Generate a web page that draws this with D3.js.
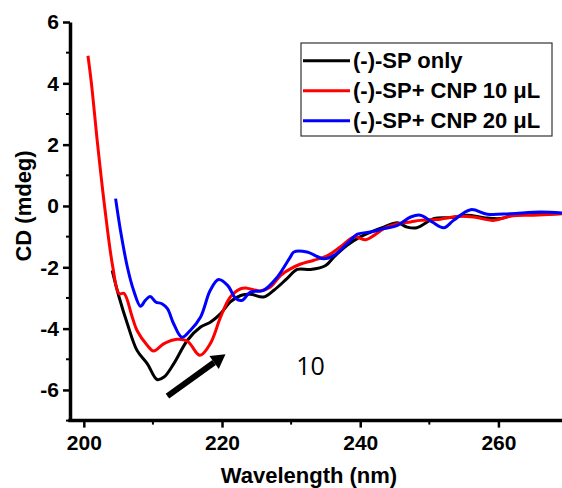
<!DOCTYPE html>
<html lang="en">
<head>
  <meta charset="UTF-8">
  <title>CD spectra</title>
  <style>
    body { margin: 0; background: #fff; }
    .line { fill: none; stroke-width: 3px; }
    text { font-family: Arial, "Liberation Sans", sans-serif; }
  </style>
</head>
<body>
  <div id="chart"></div>
  <script src="https://cdn.jsdelivr.net/npm/d3@7"></script>
  <script>
    // wavelength (nm) / CD (mdeg)
    const spOnlyX = [204.1, 205.1, 206.3, 207.7, 209.2, 210.6, 211.6, 213.0, 215.0, 216.9, 218.3, 219.8, 221.2, 222.7, 224.1, 226.0, 227.5, 229.4, 230.9, 232.8, 235.0, 236.2, 238.1, 240.0, 241.5, 243.4, 245.4, 246.8, 248.2, 250.7, 253.1, 255.5, 257.9, 260.3, 262.7, 266.1, 270];
    const spOnlyY = [-2.1, -2.97, -3.84, -4.71, -5.15, -5.66, -5.58, -5.15, -4.38, -3.95, -3.79, -3.51, -3.13, -2.92, -2.88, -2.97, -2.75, -2.37, -2.07, -2.07, -1.94, -1.66, -1.28, -1.01, -0.85, -0.69, -0.55, -0.69, -0.71, -0.41, -0.38, -0.30, -0.38, -0.41, -0.27, -0.27, -0.24];

    const cnp10X = [200.6, 201.1, 202.0, 203.0, 204.2, 205.1, 205.8, 207.0, 207.7, 209.2, 210.1, 211.6, 213.5, 215.0, 216.8, 218.3, 219.8, 221.2, 222.7, 223.6, 225.5, 227.0, 228.5, 229.9, 231.3, 233.3, 235.2, 237.1, 239.1, 240.8, 242.0, 243.4, 245.4, 247.3, 248.7, 251.6, 254.0, 256.4, 259.3, 261.8, 265.1, 270];
    const cnp10Y = [4.9, 4.0, 2.0, 0.0, -2.0, -2.86, -2.85, -3.62, -4.06, -4.55, -4.73, -4.49, -4.35, -4.41, -4.87, -4.49, -3.62, -2.97, -2.70, -2.68, -2.77, -2.64, -2.26, -2.05, -1.9, -1.77, -1.63, -1.34, -1.01, -1.1, -0.96, -0.74, -0.58, -0.52, -0.47, -0.43, -0.34, -0.36, -0.47, -0.33, -0.30, -0.24];

    const cnp20X = [204.6, 205.3, 206.3, 207.2, 208.2, 208.9, 209.6, 210.4, 211.3, 212.1, 213.0, 214.2, 215.4, 216.9, 218.3, 219.5, 220.8, 222.0, 222.9, 224.1, 226.0, 228.0, 229.9, 230.4, 232.3, 234.7, 236.2, 238.1, 239.6, 241.5, 243.4, 245.4, 247.3, 248.7, 250.4, 252.1, 253.5, 256.0, 258.4, 261.8, 266.1, 270];
    const cnp20Y = [0.24, -0.79, -1.99, -2.75, -3.27, -3.08, -2.95, -3.13, -3.19, -3.35, -3.84, -4.28, -4.06, -3.62, -2.75, -2.4, -2.59, -3.02, -3.08, -2.81, -2.75, -2.32, -1.66, -1.5, -1.5, -1.72, -1.61, -1.23, -0.92, -0.85, -0.74, -0.63, -0.36, -0.3, -0.52, -0.71, -0.47, -0.12, -0.27, -0.25, -0.2, -0.24];

    const seriesNames = ["(-)-SP only", "(-)-SP+ CNP 10 \u03bcL", "(-)-SP+ CNP 20 \u03bcL"];
    const seriesColors = ["#000000", "#ff0000", "#0000ff"];

    const xMajor = [200, 220, 240, 260];
    const xMinor = [210, 230, 250, 270];
    const yMajor = [6, 4, 2, 0, -2, -4, -6];
    const yMinor = [5, 3, 1, -1, -3, -5, -7];

    // arrow + annotation, in data units
    const arrowFrom = [212.1, -6.2];
    const arrowTo = [220.5, -4.84];
    const noteText = "10";
    const notePos = [232.8, -5.52];

    const W = 562, H = 488;
    const margin = { top: 22, left: 70 };
    const plotH = 398.6;

    const svg = d3.select("#chart").append("svg")
      .attr("width", W)
      .attr("height", H);

    const x = d3.scaleLinear().domain([198, 270]).range([margin.left, margin.left + 72 * 6.91]);
    const y = d3.scaleLinear().domain([-7, 6]).range([margin.top + plotH, margin.top]);

    const line = d3.line()
      .x(d => x(d[0]))
      .y(d => y(d[1]))
      .curve(d3.curveCatmullRom.alpha(0.5));

    const data = [
      d3.zip(spOnlyX, spOnlyY),
      d3.zip(cnp10X, cnp10Y),
      d3.zip(cnp20X, cnp20Y)
    ];

    const plot = svg.append("g");
    plot.append("clipPath").attr("id", "clip")
      .append("rect").attr("x", margin.left).attr("y", 0).attr("width", W).attr("height", margin.top + plotH);

    // draw black first, then red, then blue on top
    data.forEach((pts, i) => {
      plot.append("path")
        .datum(pts)
        .attr("class", "line")
        .attr("clip-path", "url(#clip)")
        .attr("stroke", seriesColors[i])
        .attr("d", line);
    });

    // axes
    const xAxis = svg.append("g").attr("transform", `translate(0, ${y(-7)})`);
    xAxis.call(d3.axisBottom(x).tickValues(xMajor).tickSize(7).tickPadding(7).tickFormat(d3.format("d")));
    xAxis.append("g").selectAll("line").data(xMinor).enter().append("line")
      .attr("x1", d => x(d)).attr("x2", d => x(d))
      .attr("y1", 0).attr("y2", 4)
      .attr("stroke", "#000").attr("stroke-width", 2);

    const yAxis = svg.append("g").attr("transform", `translate(${x(198)}, 0)`);
    yAxis.call(d3.axisLeft(y).tickValues(yMajor).tickSize(7).tickPadding(4).tickSizeOuter(0).tickFormat(d3.format("d")));
    yAxis.append("g").selectAll("line").data(yMinor).enter().append("line")
      .attr("y1", d => y(d)).attr("y2", d => y(d))
      .attr("x1", 0).attr("x2", -4)
      .attr("stroke", "#000").attr("stroke-width", 2);

    [xAxis, yAxis].forEach(a => {
      a.select(".domain").style("stroke-width", "3.5px").style("stroke", "#000");
      a.selectAll(".tick line").style("stroke-width", "2.5px");
      a.selectAll(".tick text")
        .style("font-family", "Arial, 'Liberation Sans', sans-serif")
        .style("font-size", "21px")
        .style("font-weight", "bold")
        .text(d => d < 0 ? "-" + Math.abs(d) : d);
    });
    xAxis.select(".domain").attr("d", `M${x(198) - 1.75},0H${W}`);

    // axis titles
    svg.append("text")
      .attr("x", 309).attr("y", 483)
      .attr("text-anchor", "middle")
      .style("font-size", "22px").style("font-weight", "bold")
      .text("Wavelength (nm)");

    svg.append("text")
      .attr("transform", `translate(31, ${y(0)}) rotate(-90)`)
      .attr("text-anchor", "middle")
      .style("font-size", "22px").style("font-weight", "bold")
      .text("CD (mdeg)");

    // arrow
    const ax0 = x(arrowFrom[0]), ay0 = y(arrowFrom[1]);
    const ax1 = x(arrowTo[0]), ay1 = y(arrowTo[1]);
    const ang = Math.atan2(ay1 - ay0, ax1 - ax0);
    const headL = 14, headW = 8;
    const bx = ax1 - headL * Math.cos(ang), by = ay1 - headL * Math.sin(ang);
    svg.append("line")
      .attr("x1", ax0).attr("y1", ay0).attr("x2", bx).attr("y2", by)
      .attr("stroke", "#000").attr("stroke-width", 6);
    svg.append("path")
      .attr("d", `M${ax1},${ay1}L${bx - headW * Math.sin(ang)},${by + headW * Math.cos(ang)}L${bx + headW * Math.sin(ang)},${by - headW * Math.cos(ang)}Z`)
      .attr("fill", "#000");

    svg.append("text")
      .attr("x", x(notePos[0])).attr("y", y(notePos[1]))
      .attr("text-anchor", "middle")
      .style("font-family", "'Open Sans', Arial, sans-serif")
      .style("font-size", "25px")
      .text(noteText);

    // legend
    const legend = svg.append("g").attr("transform", "translate(301, 43)");
    legend.append("rect")
      .attr("width", 251).attr("height", 93)
      .attr("fill", "#fff").attr("stroke", "#333").attr("stroke-width", 1.2);
    seriesNames.forEach((name, i) => {
      const row = legend.append("g").attr("transform", `translate(0, ${17.7 + i * 30})`);
      row.append("line")
        .attr("x1", 2).attr("x2", 49)
        .attr("stroke", seriesColors[i]).attr("stroke-width", 3);
      row.append("text")
        .attr("x", 52).attr("y", 7.5)
        .style("font-size", "22px").style("font-weight", "bold")
        .text(name);
    });
  </script>
</body>
</html>
